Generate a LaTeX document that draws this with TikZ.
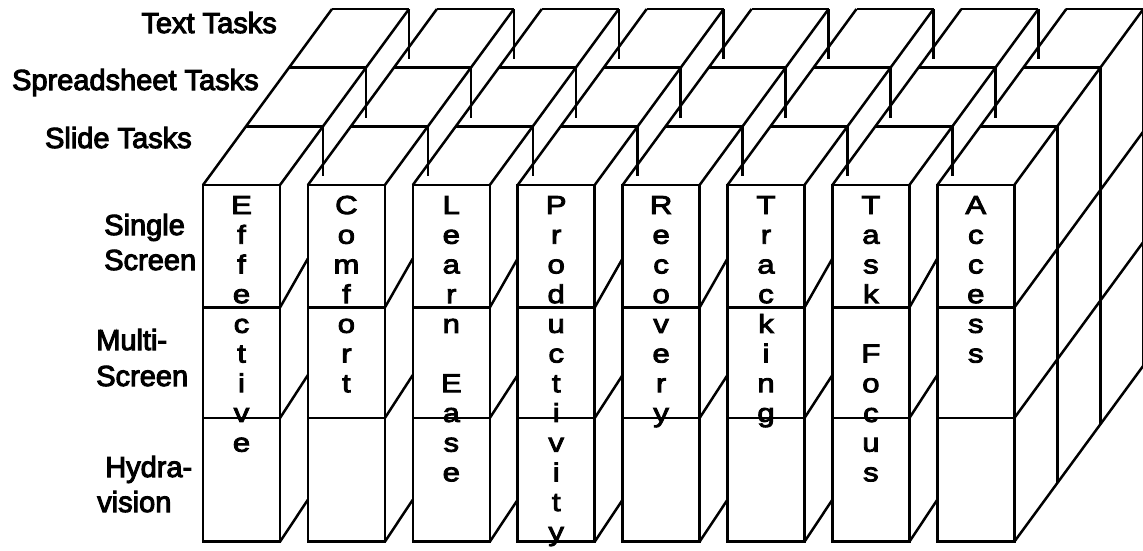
\documentclass[tikz,border=0pt]{standalone}
\usepackage{fontspec}
\setmainfont{Liberation Sans}
\newfontfamily\etiqfont[FakeBold=3.5]{Liberation Sans}
\newfontfamily\letrafont[FakeStretch=1.2, FakeBold=3.5]{Liberation Sans}

\tikzset{
  etiqueta/.style={font=\etiqfont\fontsize{29}{35}\selectfont, inner sep=0pt},
  letra/.style={font=\letrafont\fontsize{26}{30}\selectfont, inner sep=0pt, anchor=base},
}

\begin{document}
\begin{tikzpicture}[x=1pt, y=-1pt, line width=2.5pt]
\useasboundingbox (0,0) rectangle (1143,550);
% Capas de tareas (de atras hacia delante)
\node[etiqueta, anchor=base east] (texto) at (278,33) {Text Tasks};
\node[etiqueta, anchor=base east] (hoja) at (260,90) {Spreadsheet Tasks};
\node[etiqueta, anchor=base east] (diapo) at (193,148) {Slide Tasks};
% Filas de pantallas
\node[etiqueta, anchor=base west] (simple1) at (103,235) {Single};
\node[etiqueta, anchor=base west] (simple2) at (103,270) {Screen};
\node[etiqueta, anchor=base west] (multi1) at (95,350) {Multi-};
\node[etiqueta, anchor=base west] (multi2) at (95,386) {Screen};
\node[etiqueta, anchor=base west] (hydra1) at (104,477) {Hydra-};
\node[etiqueta, anchor=base west] (hydra2) at (96,512) {vision};

% Columnas: cara frontal, tapa y aristas de profundidad
\foreach \i in {0,...,7} {
  \pgfmathsetmacro\L{203+104.9*\i}
  \pgfmathsetmacro\R{\L+77}
  \draw (\L,185) rectangle (\R,541.7);
  \draw (\L,307.5) -- (\R,307.5) (\L,418) -- (\R,418);
  \draw (\L,185) -- ++(129,-176) (\R,185) -- ++(129,-176);
  \foreach \k in {1,2,3}
    \draw (\L+43*\k,185-58.7*\k) -- ++(77,0);
}
% Hueco entre columnas: lo poco que se ve de la cara lateral
\foreach \i in {0,...,6} {
  \pgfmathsetmacro\R{280+104.9*\i}
  \foreach \k in {1,2,3}
    \draw (\R+43*\k,185-58.7*\k) -- ++(0,50);
  \draw (\R,307.5) -- ++(27.9,-49) (\R,418) -- ++(27.9,-43) (\R,541.7) -- ++(27.9,-42);
}
% Cara lateral derecha del bloque
\foreach \k in {1,2,3}
  \draw (1014.3+43*\k,185-58.7*\k) -- ++(0,356.7);
\foreach \y in {307.5,418,541.7}
  \draw (1014.3,\y) -- ++(129,-176);

% Letras de cada columna
\foreach \i/\palabra in {0/{E,f,f,e,c,t,i,v,e}, 1/{C,o,m,f,o,r,t},
    2/{L,e,a,r,n,{},E,a,s,e}, 3/{P,r,o,d,u,c,t,i,v,i,t,y},
    4/{R,e,c,o,v,e,r,y}, 5/{T,r,a,c,k,i,n,g},
    6/{T,a,s,k,{},F,o,c,u,s}, 7/{A,c,c,e,s,s}} {
  \foreach \c [count=\n] in \palabra
    \node[letra] (l\i-\n) at (241.5+104.9*\i, 184.3+29.7*\n) {\c};
}
\end{tikzpicture}
\end{document}
